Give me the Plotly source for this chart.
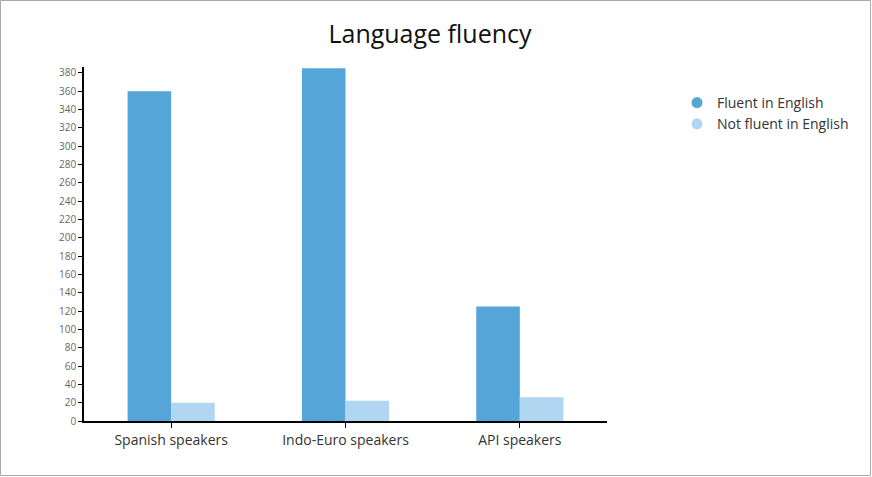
import plotly.graph_objects as go

categories = ["Spanish speakers", "Indo-Euro speakers", "API speakers"]
fluent = [360, 385, 125]
not_fluent = [20, 22, 26]
series_names = ["Fluent in English", "Not fluent in English"]
colors = ["#56A5D9", "#B0D6F1"]
y_ticks = list(range(0, 381, 20))

L, R, T, B = 84, 265, 67, 56
W, H = 872, 477
pw, ph = W - L - R, H - T - B

fig = go.Figure()
for name, vals, c in zip(series_names, [fluent, not_fluent], colors):
    fig.add_trace(go.Bar(x=categories, y=vals, name=name, marker=dict(color=c, line=dict(width=0)),
                         showlegend=False))
for name, c in zip(series_names, colors):
    fig.add_trace(go.Scatter(x=[None], y=[None], mode="markers", name=name,
                             marker=dict(symbol="circle", size=11, color=c)))

fig.update_layout(
    width=W, height=H,
    margin=dict(l=L, r=R, t=T, b=B),
    paper_bgcolor="white", plot_bgcolor="white",
    font=dict(family="Open Sans, Lato, sans-serif", color="#333"),
    title=dict(text="Language fluency", x=430 / W, xanchor="center",
               y=1 - 34 / H, yanchor="middle", font=dict(size=25, color="#111")),
    barmode="group", bargap=0.5, bargroupgap=0,
    showlegend=True,
    legend=dict(x=(677 - L) / pw, y=(421 - 87) / ph, xanchor="left", yanchor="top",
                font=dict(size=14, color="#333"), tracegroupgap=0, itemwidth=30,
                bgcolor="rgba(0,0,0,0)"),
    xaxis=dict(showline=True, linecolor="black", linewidth=1.5, ticks="outside",
               ticklen=5, tickcolor="black", tickfont=dict(size=14, color="#333"),
               showgrid=False, zeroline=False),
    yaxis=dict(range=[0, 386.5], tickvals=y_ticks, showline=True, linecolor="black",
               linewidth=1.5, ticks="outside", ticklen=4, tickcolor="black",
               tickfont=dict(size=10, color="#666"), showgrid=False, zeroline=False),
)

fig.add_shape(type="rect", xref="paper", yref="paper",
              x0=-(L - 0.5) / pw, x1=1 + (R - 1.5) / pw,
              y0=-(B - 1.5) / ph, y1=1 + (T - 0.5) / ph,
              line=dict(color="#aaa", width=1), fillcolor="rgba(0,0,0,0)", layer="below")

fig.write_html("out.html", config={"displayModeBar": False},
               post_script="document.body.style.margin='0';document.body.style.overflow='hidden';")
